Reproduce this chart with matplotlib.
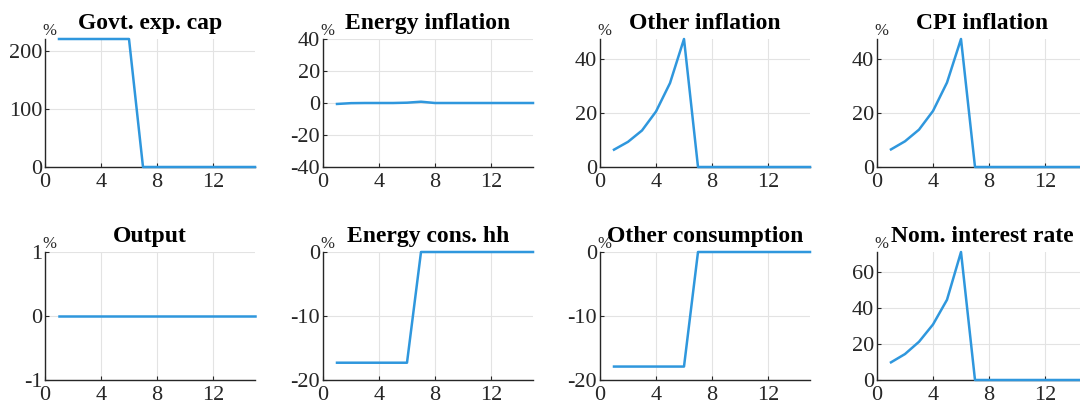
import numpy as np
import matplotlib
matplotlib.use('Agg')
import matplotlib.pyplot as plt

# Set rcParams
plt.rcParams.update({
    'font.family': ['Liberation Serif', 'DejaVu Serif'],
    'axes.linewidth': 1.0,
    'axes.unicode_minus': False,
    'xtick.direction': 'in',
    'ytick.direction': 'in',
})

line_color = '#2f97dd'
axis_color = '#262626'
grid_color = '#e3e3e3'

# Quarters after the shock
quarters = np.arange(1, 16)

govt_exp_cap = [220, 220, 220, 220, 220, 220, 0, 0, 0, 0, 0, 0, 0, 0, 0]
energy_inflation = [-0.6, -0.1, 0, 0, 0, 0.2, 0.8, 0, 0, 0, 0, 0, 0, 0, 0]
other_inflation = [6.4, 9.3, 13.5, 20.5, 31.0, 47.3, 0, 0, 0, 0, 0, 0, 0, 0, 0]
cpi_inflation = [6.5, 9.5, 13.8, 20.7, 31.2, 47.3, 0, 0, 0, 0, 0, 0, 0, 0, 0]
output = [0, 0, 0, 0, 0, 0, 0, 0, 0, 0, 0, 0, 0, 0, 0]
energy_cons_hh = [-17.3, -17.3, -17.3, -17.3, -17.3, -17.3, 0, 0, 0, 0, 0, 0, 0, 0, 0]
other_consumption = [-17.9, -17.9, -17.9, -17.9, -17.9, -17.9, 0, 0, 0, 0, 0, 0, 0, 0, 0]
nom_interest_rate = [9.8, 14.4, 21.2, 30.8, 44.5, 71.0, 0, 0, 0, 0, 0, 0, 0, 0, 0]

titles = ['Govt. exp. cap', 'Energy inflation', 'Other inflation', 'CPI inflation',
          'Output', 'Energy cons. hh', 'Other consumption', 'Nom. interest rate']
series = [govt_exp_cap, energy_inflation, other_inflation, cpi_inflation,
          output, energy_cons_hh, other_consumption, nom_interest_rate]
ylims = [(0, 220), (-40, 40), (0, 47.3), (0, 47.3),
         (-1, 1), (-20, 0), (-20, 0), (0, 71.0)]
yticks = [[0, 100, 200], [-40, -20, 0, 20, 40], [0, 20, 40], [0, 20, 40],
          [-1, 0, 1], [-20, -10, 0], [-20, -10, 0], [0, 20, 40, 60]]
xticks = [0, 4, 8, 12]

W, H = 1080, 405
fig = plt.figure(figsize=(W / 100, H / 100), dpi=100)

col_left = [45, 323, 600, 877]
row_top = [39, 252]
ax_w, ax_h = 210, 128

for i, (title, y) in enumerate(zip(titles, series)):
    r, c = divmod(i, 4)
    left = col_left[c] / W
    bottom = 1 - (row_top[r] + ax_h) / H
    ax = fig.add_axes([left, bottom, ax_w / W, ax_h / H])

    ax.plot(quarters, y, color=line_color, lw=1.8, clip_on=False, zorder=3)
    ax.set_xlim(0, 15)
    ax.set_ylim(*ylims[i])
    ax.set_xticks(xticks)
    ax.set_yticks(yticks[i])
    ax.grid(True, color=grid_color, lw=0.8)
    ax.set_axisbelow(True)

    for side in ['top', 'right']:
        ax.spines[side].set_visible(False)
    for side in ['left', 'bottom']:
        ax.spines[side].set_color(axis_color)

    ax.tick_params(axis='both', colors=axis_color, labelsize=16, length=3, width=0.8)
    ax.tick_params(axis='x', pad=4.5)
    ax.tick_params(axis='y', pad=2)

    ax.set_title(title, fontsize=17, fontweight='bold', color='black', pad=7)
    ax.annotate('%', xy=(0, 1), xycoords='axes fraction', xytext=(3, 0),
                textcoords='offset points', ha='center', va='bottom',
                fontsize=12, color=axis_color)

fig.savefig('out.png', dpi=100)
